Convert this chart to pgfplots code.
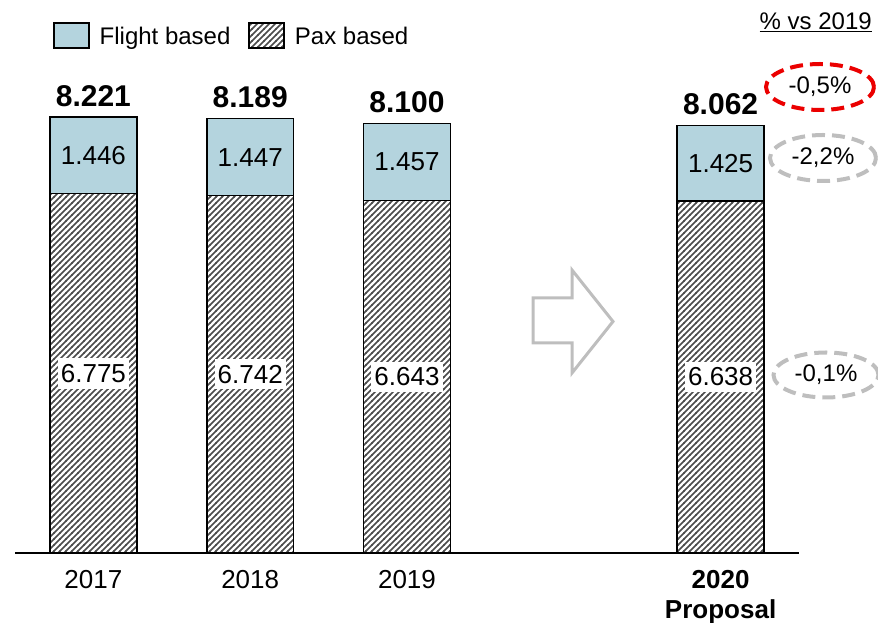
\documentclass[border=0pt]{standalone}
\usepackage{fontspec}
\setmainfont{Liberation Sans}
\usepackage{pgfplots}
\pgfplotsset{compat=1.18}
\usetikzlibrary{patterns,shapes.geometric}
\pgfdeclarepatternformonly{densehatch}{\pgfqpoint{-1pt}{-1pt}}{\pgfqpoint{7pt}{7pt}}{\pgfqpoint{6pt}{6pt}}{%
  \pgfsetlinewidth{1.6pt}%
  \pgfpathmoveto{\pgfqpoint{-0.5pt}{-0.5pt}}%
  \pgfpathlineto{\pgfqpoint{6.5pt}{6.5pt}}%
  \pgfusepath{stroke}}
\definecolor{flight}{RGB}{180,212,222}
\definecolor{hatch}{RGB}{75,75,75}
\definecolor{annogray}{RGB}{190,190,190}
\definecolor{annored}{RGB}{235,0,0}
\newcommand{\segfont}{\fontsize{26}{30}\selectfont}
\newcommand{\totfont}{\fontsize{30}{34}\selectfont\bfseries}
\newcommand{\legfont}{\fontsize{24}{28}\selectfont}
\newcommand{\annfont}{\fontsize{24}{28}\selectfont}
\tikzset{
  seg/.style={font=\segfont},
  pax/.style={font=\segfont, fill=white, inner xsep=3pt, inner ysep=6pt},
  tot/.style={font=\totfont, anchor=base, yshift=11pt},
  ann/.style={ellipse, line width=4pt, dash pattern=on 13pt off 7pt, inner sep=0pt, font=\annfont},
}
\begin{document}
\begin{tikzpicture}
\path[use as bounding box] (0pt,0pt) rectangle (878pt,623pt);
\begin{axis}[
  at={(15pt,70pt)}, anchor=south west,
  scale only axis, width=784pt, height=553pt,
  xmin=-0.5, xmax=4.5, ymin=0, ymax=10428,
  ybar stacked, bar width=0.554,
  axis x line=bottom, axis y line=none,
  x axis line style={-, line width=1.5pt},
  xtick={0,1,2,4},
  xticklabels={2017,2018,2019,{\textbf{2020}\\\textbf{Proposal}}},
  xticklabel style={font=\segfont, align=center, anchor=north, inner sep=0pt, yshift=-17pt},
  major tick length=0pt,
  ytick=\empty,
  clip=false,
  legend columns=2,
  legend style={at={(0.0485,0.9602)}, anchor=north west, draw=none, fill=none, inner sep=0pt,
    font=\legfont, column sep=10pt,
    /tikz/every even column/.append style={column sep=18pt}, nodes={inner sep=0pt}},
]
\addlegendimage{legend image code/.code={\draw[draw=black, line width=1.5pt, fill=flight] (0pt,-11pt) rectangle (35pt,14pt);}}
\addlegendentry{Flight based}
\addlegendimage{legend image code/.code={\draw[draw=black, line width=1.5pt, pattern=densehatch, pattern color=hatch] (0pt,-11pt) rectangle (35pt,14pt);}}
\addlegendentry{Pax based}
\addplot[forget plot, draw=black, line width=1.5pt, pattern=densehatch, pattern color=hatch]
  coordinates {(0,6775) (1,6742) (2,6643) (4,6638)};
\addplot[forget plot, draw=black, line width=1.5pt, fill=flight]
  coordinates {(0,1446) (1,1447) (2,1457) (4,1425)};
\coordinate (f0) at (axis cs:0,7498);
\coordinate (f1) at (axis cs:1,7465.5);
\coordinate (f2) at (axis cs:2,7371.5);
\coordinate (f4) at (axis cs:4,7350.5);
\coordinate (p0) at (axis cs:0,3387.5);
\coordinate (p1) at (axis cs:1,3371);
\coordinate (p2) at (axis cs:2,3321.5);
\coordinate (p4) at (axis cs:4,3319);
\coordinate (t0) at (axis cs:0,8221);
\coordinate (t1) at (axis cs:1,8189);
\coordinate (t2) at (axis cs:2,8100);
\coordinate (t4) at (axis cs:4,8063);
\end{axis}
\node[seg] at (f0) {1.446};
\node[seg] at (f1) {1.447};
\node[seg] at (f2) {1.457};
\node[seg] at (f4) {1.425};
\node[pax] at (p0) {6.775};
\node[pax] at (p1) {6.742};
\node[pax] at (p2) {6.643};
\node[pax] at (p4) {6.638};
\node[tot] at (t0) {8.221};
\node[tot] at (t1) {8.189};
\node[tot] at (t2) {8.100};
\node[tot] at (t4) {8.062};
\node[anchor=base east, font=\legfont, inner sep=0pt] at (872pt,593pt) {\underline{\% vs 2019}};
\node[ann, draw=annored, minimum width=108pt, minimum height=46pt] at (820pt,536pt) {-0,5\%};
\node[ann, draw=annogray, minimum width=106pt, minimum height=46pt] at (823pt,465pt) {-2,2\%};
\node[ann, draw=annogray, minimum width=105pt, minimum height=45pt] at (826pt,248pt) {-0,1\%};
\draw[annogray, line width=3pt, line join=miter] (533pt,325pt) -- (572pt,325pt) -- (572pt,353pt) -- (613pt,301.5pt) -- (572pt,250pt) -- (572pt,280pt) -- (533pt,280pt) -- cycle;
\end{tikzpicture}
\end{document}
